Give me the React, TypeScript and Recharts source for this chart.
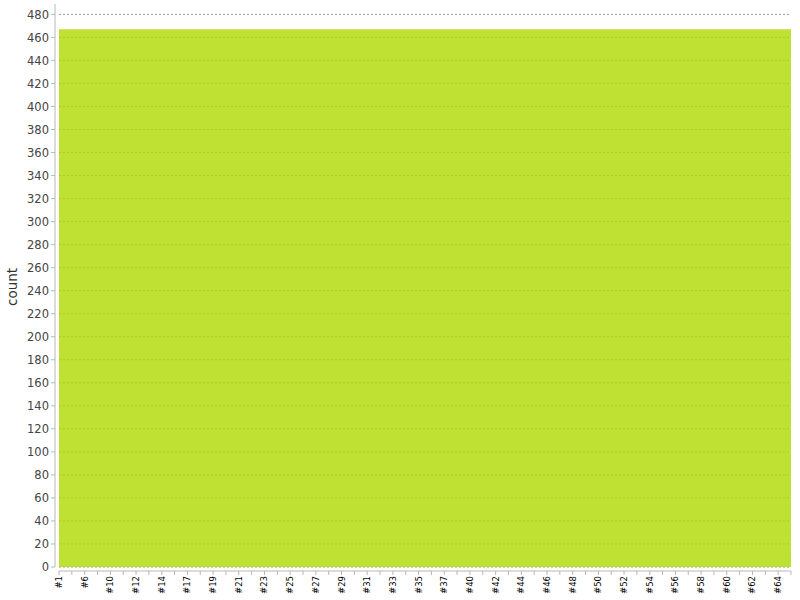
import React from 'react';
import { AreaChart, Area, XAxis, YAxis, CartesianGrid, Label } from 'recharts';

const categories: string[] = [
  '#1', '#4', '#6', '#8', '#10', '#11', '#12', '#13', '#14', '#16',
  '#17', '#18', '#19', '#20', '#21', '#22', '#23', '#24', '#25', '#26',
  '#27', '#28', '#29', '#30', '#31', '#32', '#33', '#34', '#35', '#36',
  '#37', '#39', '#40', '#41', '#42', '#43', '#44', '#45', '#46', '#47',
  '#48', '#49', '#50', '#51', '#52', '#53', '#54', '#55', '#56', '#57',
  '#58', '#59', '#60', '#61', '#62', '#63', '#64', '#65',
];

const counts: number[] = [
  467, 467, 467, 467, 467, 467, 467, 467, 467, 467,
  467, 467, 467, 467, 467, 467, 467, 467, 467, 467,
  467, 467, 467, 467, 467, 467, 467, 467, 467, 467,
  467, 467, 467, 467, 467, 467, 467, 467, 467, 467,
  467, 467, 467, 467, 467, 467, 467, 467, 467, 467,
  467, 467, 467, 467, 467, 467, 467, 467,
];

const yTicks: number[] = [
  0, 20, 40, 60, 80, 100, 120, 140, 160, 180, 200, 220, 240,
  260, 280, 300, 320, 340, 360, 380, 400, 420, 440, 460, 480,
];

const data = categories.map((c, i) => ({ name: c, count: counts[i] }));

const FONT = '"DejaVu Sans", sans-serif';
const AXIS_GREY = '#b8b8b8';

const XTick = (props: any) => {
  const { x, y, payload } = props;
  const idx = categories.indexOf(payload.value);
  return (
    <g>
      <line x1={x} x2={x} y1={y + 4} y2={y + 8} stroke={AXIS_GREY} strokeWidth={1} />
      {idx % 2 === 0 && (
        <text
          transform={`translate(${x},${y + 9}) rotate(-90)`}
          textAnchor="end"
          dy="0.35em"
          fontSize={8.5}
          fontFamily={FONT}
          fill="#000"
        >
          {payload.value}
        </text>
      )}
    </g>
  );
};

const YTick = (props: any) => {
  const { x, y, payload } = props;
  return (
    <g>
      <line x1={x - 8} x2={x - 4} y1={y} y2={y} stroke={AXIS_GREY} strokeWidth={1} />
      <text
        x={x - 10}
        y={y}
        dy="0.36em"
        textAnchor="end"
        fontSize={11.5}
        fontFamily={FONT}
        fill="#444"
      >
        {payload.value}
      </text>
    </g>
  );
};

const gridCoords = (props: any) => {
  const yAxis = props && props.yAxis;
  const scale = yAxis && yAxis.scale;
  if (!scale) return [];
  const fn = typeof scale === 'function' ? scale : scale.map ? (v: number) => scale.map(v) : null;
  if (!fn) return [];
  return yTicks.map((t) => fn(t));
};

export default function App() {
  return (
    <div
      style={{
        position: 'absolute',
        left: 0,
        top: 0,
        width: 800,
        height: 600,
        background: '#fff',
        fontFamily: FONT,
      }}
    >
      <AreaChart
        width={800}
        height={600}
        data={data}
        margin={{ top: 4, right: 9, bottom: 0, left: 0 }}
      >
        <CartesianGrid
          vertical={false}
          stroke="#9a9a9a"
          strokeDasharray="2 2"
          horizontalCoordinatesGenerator={gridCoords}
        />
        <XAxis
          dataKey="name"
          scale="point"
          interval={0}
          height={33}
          tickSize={0}
          tickMargin={0}
          tickLine={false}
          axisLine={{ stroke: AXIS_GREY, transform: 'translate(0,4)' } as any}
          tick={<XTick />}
        />
        <YAxis
          type="number"
          domain={[0, 489]}
          ticks={yTicks}
          interval={0}
          width={59}
          tickSize={0}
          tickMargin={0}
          tickLine={false}
          axisLine={{ stroke: AXIS_GREY, transform: 'translate(-4,0)' } as any}
          tick={<YTick />}
        >
          <Label
            content={() => (
              <text
                transform="translate(17,287) rotate(-90)"
                textAnchor="middle"
                fontSize={13.5}
                fontFamily={FONT}
                fill="#333"
              >
                count
              </text>
            )}
          />
        </YAxis>
        <Area
          type="linear"
          dataKey="count"
          stroke="none"
          fill="rgb(174,217,0)"
          fillOpacity={0.8}
          isAnimationActive={false}
          dot={false}
          activeDot={false}
        />
      </AreaChart>
    </div>
  );
}
